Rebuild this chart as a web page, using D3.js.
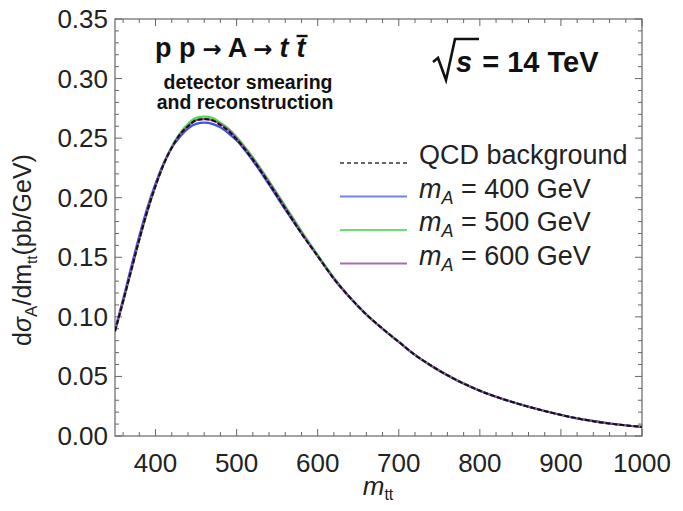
<!DOCTYPE html>
<html><head><meta charset="utf-8">
<script src="https://cdn.jsdelivr.net/npm/d3@7"></script>
<style>body{margin:0;background:#fff}svg{display:block}</style>
</head><body>
<svg id="c" width="683" height="511"></svg>
<script>
const mtt = [350,360,370,380,390,400,410,420,430,440,450,460,470,480,490,500,520,540,560,580,600,620,640,660,680,700,720,740,760,780,800,840,880,920,960,1000];
const qcd   = [0.088,0.113,0.139,0.165,0.189,0.210,0.228,0.242,0.253,0.260,0.265,0.266,0.265,0.261,0.256,0.249,0.232,0.212,0.191,0.170,0.151,0.132,0.116,0.102,0.090,0.079,0.068,0.059,0.051,0.044,0.038,0.0285,0.021,0.0148,0.0105,0.0076];
const mA400 = [0.089,0.115,0.142,0.168,0.192,0.212,0.229,0.242,0.251,0.258,0.262,0.263,0.262,0.259,0.254,0.248,0.231,0.211,0.190,0.170,0.151,0.132,0.116,0.102,0.090,0.079,0.068,0.059,0.051,0.044,0.038,0.0285,0.021,0.0148,0.0105,0.0076];
const mA500 = [0.088,0.113,0.139,0.165,0.189,0.210,0.228,0.243,0.254,0.262,0.267,0.268,0.267,0.263,0.258,0.251,0.234,0.214,0.193,0.172,0.152,0.133,0.116,0.102,0.090,0.079,0.068,0.059,0.051,0.044,0.038,0.0285,0.021,0.0148,0.0105,0.0076];
const mA600 = [0.088,0.113,0.139,0.165,0.189,0.210,0.228,0.242,0.253,0.260,0.265,0.266,0.265,0.262,0.257,0.250,0.233,0.213,0.192,0.171,0.151,0.132,0.116,0.102,0.090,0.079,0.068,0.059,0.051,0.044,0.038,0.0285,0.021,0.0148,0.0105,0.0076];
const seriesNames = ["QCD background","400","500","600"];
const xTicks = [400,500,600,700,800,900,1000];
const yTicks = [0,0.05,0.10,0.15,0.20,0.25,0.30,0.35];

const svg = d3.select("#c");
const L=115,R=642,T=19,B=436;
const x = d3.scaleLinear().domain([350,1000]).range([L,R]);
const y = d3.scaleLinear().domain([0,0.35]).range([B,T]);
const font = "'Liberation Sans', Arial, sans-serif";
const frameCol = "#666";

svg.append("rect").attr("x",L).attr("y",T).attr("width",R-L).attr("height",B-T)
  .attr("fill","none").attr("stroke",frameCol).attr("stroke-width",1.2);

const g = svg.append("g").attr("stroke",frameCol).attr("stroke-width",1);
d3.range(360,1000.1,20).forEach(v=>{
  const major = v%100===0; const len = major?7:4;
  g.append("line").attr("x1",x(v)).attr("x2",x(v)).attr("y1",B).attr("y2",B-len);
  g.append("line").attr("x1",x(v)).attr("x2",x(v)).attr("y1",T).attr("y2",T+len);
});
d3.range(0,0.3501,0.01).forEach(v=>{
  const major = Math.abs(Math.round(v*100)%5)===0; const len = major?7:4;
  g.append("line").attr("y1",y(v)).attr("y2",y(v)).attr("x1",L).attr("x2",L+len);
  g.append("line").attr("y1",y(v)).attr("y2",y(v)).attr("x1",R).attr("x2",R-len);
});

svg.append("g").selectAll("text").data(xTicks).join("text")
  .attr("x",d=>x(d)).attr("y",B+36).attr("text-anchor","middle")
  .attr("font-family",font).attr("font-size",26).attr("fill","#222").text(d=>d);
svg.append("g").selectAll("text").data(yTicks).join("text")
  .attr("x",L-7).attr("y",d=>y(d)+9).attr("text-anchor","end")
  .attr("font-family",font).attr("font-size",26).attr("fill","#222").text(d=>d.toFixed(2));

const yt = svg.append("text").attr("transform","translate(31,250) rotate(-90)")
  .attr("text-anchor","middle").attr("font-family",font).attr("font-size",25).attr("fill","#222");
yt.append("tspan").text("d");
yt.append("tspan").attr("font-style","italic").text("σ");
yt.append("tspan").attr("font-size",17).attr("dy",6).text("A");
yt.append("tspan").attr("dy",-6).text("/dm");
yt.append("tspan").attr("font-size",15).attr("dy",6).text("tt");
yt.append("tspan").attr("dy",-6).text("(pb/GeV)");

const xt = svg.append("text").attr("x",378).attr("y",495).attr("text-anchor","middle")
  .attr("font-family",font).attr("font-size",26).attr("fill","#222");
xt.append("tspan").attr("font-style","italic").text("m");
xt.append("tspan").attr("font-size",16).attr("dy",5).text("tt");

const data = mtt.map((m,i)=>({m, q:qcd[i], a:mA400[i], b:mA500[i], c:mA600[i]}));
svg.append("clipPath").attr("id","clip").append("rect")
  .attr("x",L).attr("y",T).attr("width",R-L).attr("height",B-T);
const line = key => d3.line().x(d=>x(d.m)).y(d=>y(d[key])).curve(d3.curveMonotoneX);
const cols = {a:"#4050e6", b:"#50dc50", c:"#9a5aa0"};
const pg = svg.append("g").attr("clip-path","url(#clip)");
pg.append("path").datum(data).attr("d",line("b")).attr("fill","none").attr("stroke",cols.b).attr("stroke-width",2.2);
pg.append("path").datum(data).attr("d",line("a")).attr("fill","none").attr("stroke",cols.a).attr("stroke-width",2.2);
pg.append("path").datum(data).attr("d",line("c")).attr("fill","none").attr("stroke",cols.c).attr("stroke-width",2.2);
pg.append("path").datum(data).attr("d",line("q")).attr("fill","none").attr("stroke","#111").attr("stroke-width",2).attr("stroke-dasharray","5,2");

const lg = svg.append("g");
const legItems = [
  {label:null, name:seriesNames[0], col:"#333", dash:"4,3"},
  {label:seriesNames[1], col:"#7282ea"},
  {label:seriesNames[2], col:"#6ede6e"},
  {label:seriesNames[3], col:"#a273aa"}
];
legItems.forEach((it,i)=>{
  const yy = 155 + i*33.5;
  lg.append("line").attr("x1",340).attr("x2",407).attr("y1",yy+8).attr("y2",yy+8)
    .attr("stroke",it.col).attr("stroke-width",it.dash?1.3:2).attr("stroke-dasharray",it.dash||null);
  const t = lg.append("text").attr("x",419).attr("y",yy+9).attr("font-family",font)
    .attr("font-size",27).attr("fill","#222");
  if(it.name){ t.text(it.name); }
  else {
    t.append("tspan").attr("font-style","italic").text("m");
    t.append("tspan").attr("font-style","italic").attr("font-size",18).attr("dy",6).text("A");
    t.append("tspan").attr("dy",-6).text(" = " + it.label + " GeV");
  }
});

// annotations
const t1 = svg.append("text").attr("x",155).attr("y",57).attr("font-family",font)
  .attr("font-size",27).attr("font-weight","bold").attr("fill","#111");
t1.append("tspan").text("p p");
t1.append("tspan").attr("font-family","'DejaVu Sans', sans-serif").attr("font-size",23).attr("dx",7).text("→");
t1.append("tspan").attr("dx",6).text("A");
t1.append("tspan").attr("font-family","'DejaVu Sans', sans-serif").attr("font-size",23).attr("dx",6).text("→");
t1.append("tspan").attr("font-style","italic").attr("dx",7).text("t");
t1.append("tspan").attr("font-style","italic").attr("dx",8).text("t");
svg.append("text").attr("x",248).attr("y",89).attr("text-anchor","middle").attr("font-family",font)
  .attr("font-size",19.5).attr("font-weight","bold").attr("fill","#111").text("detector smearing");
svg.append("text").attr("x",245).attr("y",109).attr("text-anchor","middle").attr("font-family",font)
  .attr("font-size",19.5).attr("font-weight","bold").attr("fill","#111").text("and reconstruction");

const tt = svg.append("text").attr("x",456).attr("y",72).attr("font-family",font)
  .attr("font-size",29).attr("font-weight","bold").attr("fill","#111");
tt.append("tspan").attr("font-style","italic").text("s");
tt.append("tspan").attr("dx",10).text("= 14 TeV");
svg.append("path").attr("d","M433,62 L438,58 L446,80 L455,39 L479,39")
  .attr("fill","none").attr("stroke","#111").attr("stroke-width",2.6).attr("stroke-linejoin","miter");
const tbox = t1.node().getBBox();
svg.append("line").attr("x1",tbox.x+tbox.width-10).attr("x2",tbox.x+tbox.width+1)
  .attr("y1",tbox.y+3).attr("y2",tbox.y+3).attr("stroke","#111").attr("stroke-width",2.4);
</script>
</body></html>
